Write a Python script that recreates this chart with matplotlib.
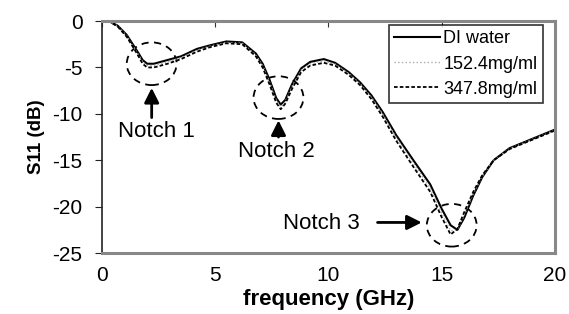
import matplotlib
matplotlib.use("Agg")
import matplotlib.pyplot as plt
from matplotlib.patches import Ellipse

plt.rcParams['font.family'] = ['Liberation Sans', 'DejaVu Sans']

freq = [0, 0.3, 0.7, 1.1, 1.55, 1.8, 2.0, 2.3, 2.9, 3.5, 4.2, 4.8, 5.5, 6.2,
        6.8, 7.1, 7.4, 7.7, 7.9, 8.1, 8.4, 8.8, 9.2, 9.8, 10.3, 10.9, 11.4,
        11.9, 12.4, 13.0, 13.7, 14.5, 15.0, 15.4, 15.7, 16.0, 16.4, 16.8,
        17.3, 18.0, 18.8, 19.4, 20.0]
di_water = [0, 0, -0.5, -1.5, -3.2, -4.2, -4.6, -4.6, -4.2, -3.8, -3.0, -2.6,
            -2.2, -2.3, -3.5, -4.6, -6.3, -8.3, -9.0, -8.5, -6.8, -5.1, -4.4,
            -4.1, -4.5, -5.5, -6.6, -8.0, -9.8, -12.3, -14.8, -17.6, -20.2,
            -22.0, -22.5, -21.2, -18.8, -16.8, -15.0, -13.7, -12.9, -12.3,
            -11.7]
conc_152 = [0, 0, -0.55, -1.6, -3.35, -4.4, -4.8, -4.8, -4.4, -3.95, -3.15,
            -2.7, -2.3, -2.4, -3.65, -4.8, -6.55, -8.55, -9.25, -8.7, -7.05,
            -5.3, -4.6, -4.3, -4.65, -5.65, -6.75, -8.2, -10.05, -12.6, -15.15,
            -18.0, -20.65, -22.6, -22.5, -20.9, -18.6, -16.7, -15.0, -13.75,
            -12.95, -12.35, -11.75]
conc_348 = [0, 0, -0.6, -1.7, -3.5, -4.6, -5.0, -5.0, -4.6, -4.1, -3.3, -2.8,
            -2.4, -2.5, -3.8, -5.0, -6.8, -8.8, -9.5, -8.9, -7.3, -5.5, -4.8,
            -4.5, -4.8, -5.8, -6.9, -8.4, -10.3, -12.9, -15.5, -18.4, -21.1,
            -23.0, -22.4, -20.6, -18.4, -16.6, -15.0, -13.8, -13.0, -12.4,
            -11.8]

labels = ['DI water', '152.4mg/ml', '347.8mg/ml']
notch_labels = ['Notch 1', 'Notch 2', 'Notch 3']
notch_f = [2.2, 7.8, 15.45]
notch_db = [-4.6, -8.25, -22.0]

xticks = [0, 5, 10, 15, 20]
yticks = [0, -5, -10, -15, -20, -25]

fig = plt.figure(figsize=(5.69, 3.14), dpi=100)
ax = fig.add_axes([0.179, 0.194, 0.796, 0.739])

ax.plot(freq, di_water, color='black', lw=1.5, label=labels[0])
ax.plot(freq, conc_152, color='#aaaaaa', lw=1.0, ls=':', label=labels[1])
ax.plot(freq, conc_348, color='black', lw=1.3, ls=(0, (2.0, 1.2)), label=labels[2])

ax.set_xlim(0, 20)
ax.set_ylim(-25, 0)
ax.set_xticks(xticks)
ax.set_yticks(yticks)
ax.set_xticklabels([str(t) for t in xticks])
ax.set_yticklabels([str(t) for t in yticks])
ax.tick_params(axis='x', top=True, bottom=False, direction='in', length=4,
               labelsize=15, pad=9, color='#333333')
ax.tick_params(axis='y', direction='out', length=5, labelsize=15, pad=9,
               color='#222222')
for name, s in ax.spines.items():
    if name == 'left':
        s.set_color('#222222')
        s.set_linewidth(1.2)
    else:
        s.set_color('#888888')
        s.set_linewidth(2.2)

ax.set_xlabel('frequency (GHz)', fontsize=16, fontweight='bold', labelpad=3)
ax.set_ylabel('S11 (dB)', fontsize=13.5, fontweight='bold', labelpad=5)

# notch circles
for f, d in zip(notch_f, notch_db):
    ax.add_patch(Ellipse((f, d), 2.2, 4.6, fill=False, ls=(0, (4, 3)),
                         lw=1.3, color='black'))

arrow = dict(arrowstyle='-|>', color='black', lw=2, mutation_scale=22)
ax.annotate('', xy=(2.2, -6.9), xytext=(2.2, -10.7), arrowprops=arrow)
ax.text(2.4, -11.9, notch_labels[0], fontsize=16, ha='center', va='center')
ax.annotate('', xy=(7.8, -10.4), xytext=(7.8, -12.8), arrowprops=arrow)
ax.text(7.7, -14.1, notch_labels[1], fontsize=16, ha='center', va='center')
ax.annotate('', xy=(14.25, -21.7), xytext=(12.05, -21.7), arrowprops=arrow)
ax.text(9.7, -21.8, notch_labels[2], fontsize=16, ha='center', va='center')

leg = ax.legend(loc='upper right', bbox_to_anchor=(0.9735, 0.983), fontsize=13,
                frameon=True, fancybox=False, edgecolor='black',
                handlelength=2.5, handletextpad=0.2, labelspacing=0.45,
                borderpad=0.3, borderaxespad=0)
leg.get_frame().set_linewidth(1.2)

fig.savefig('out.png', dpi=100)
